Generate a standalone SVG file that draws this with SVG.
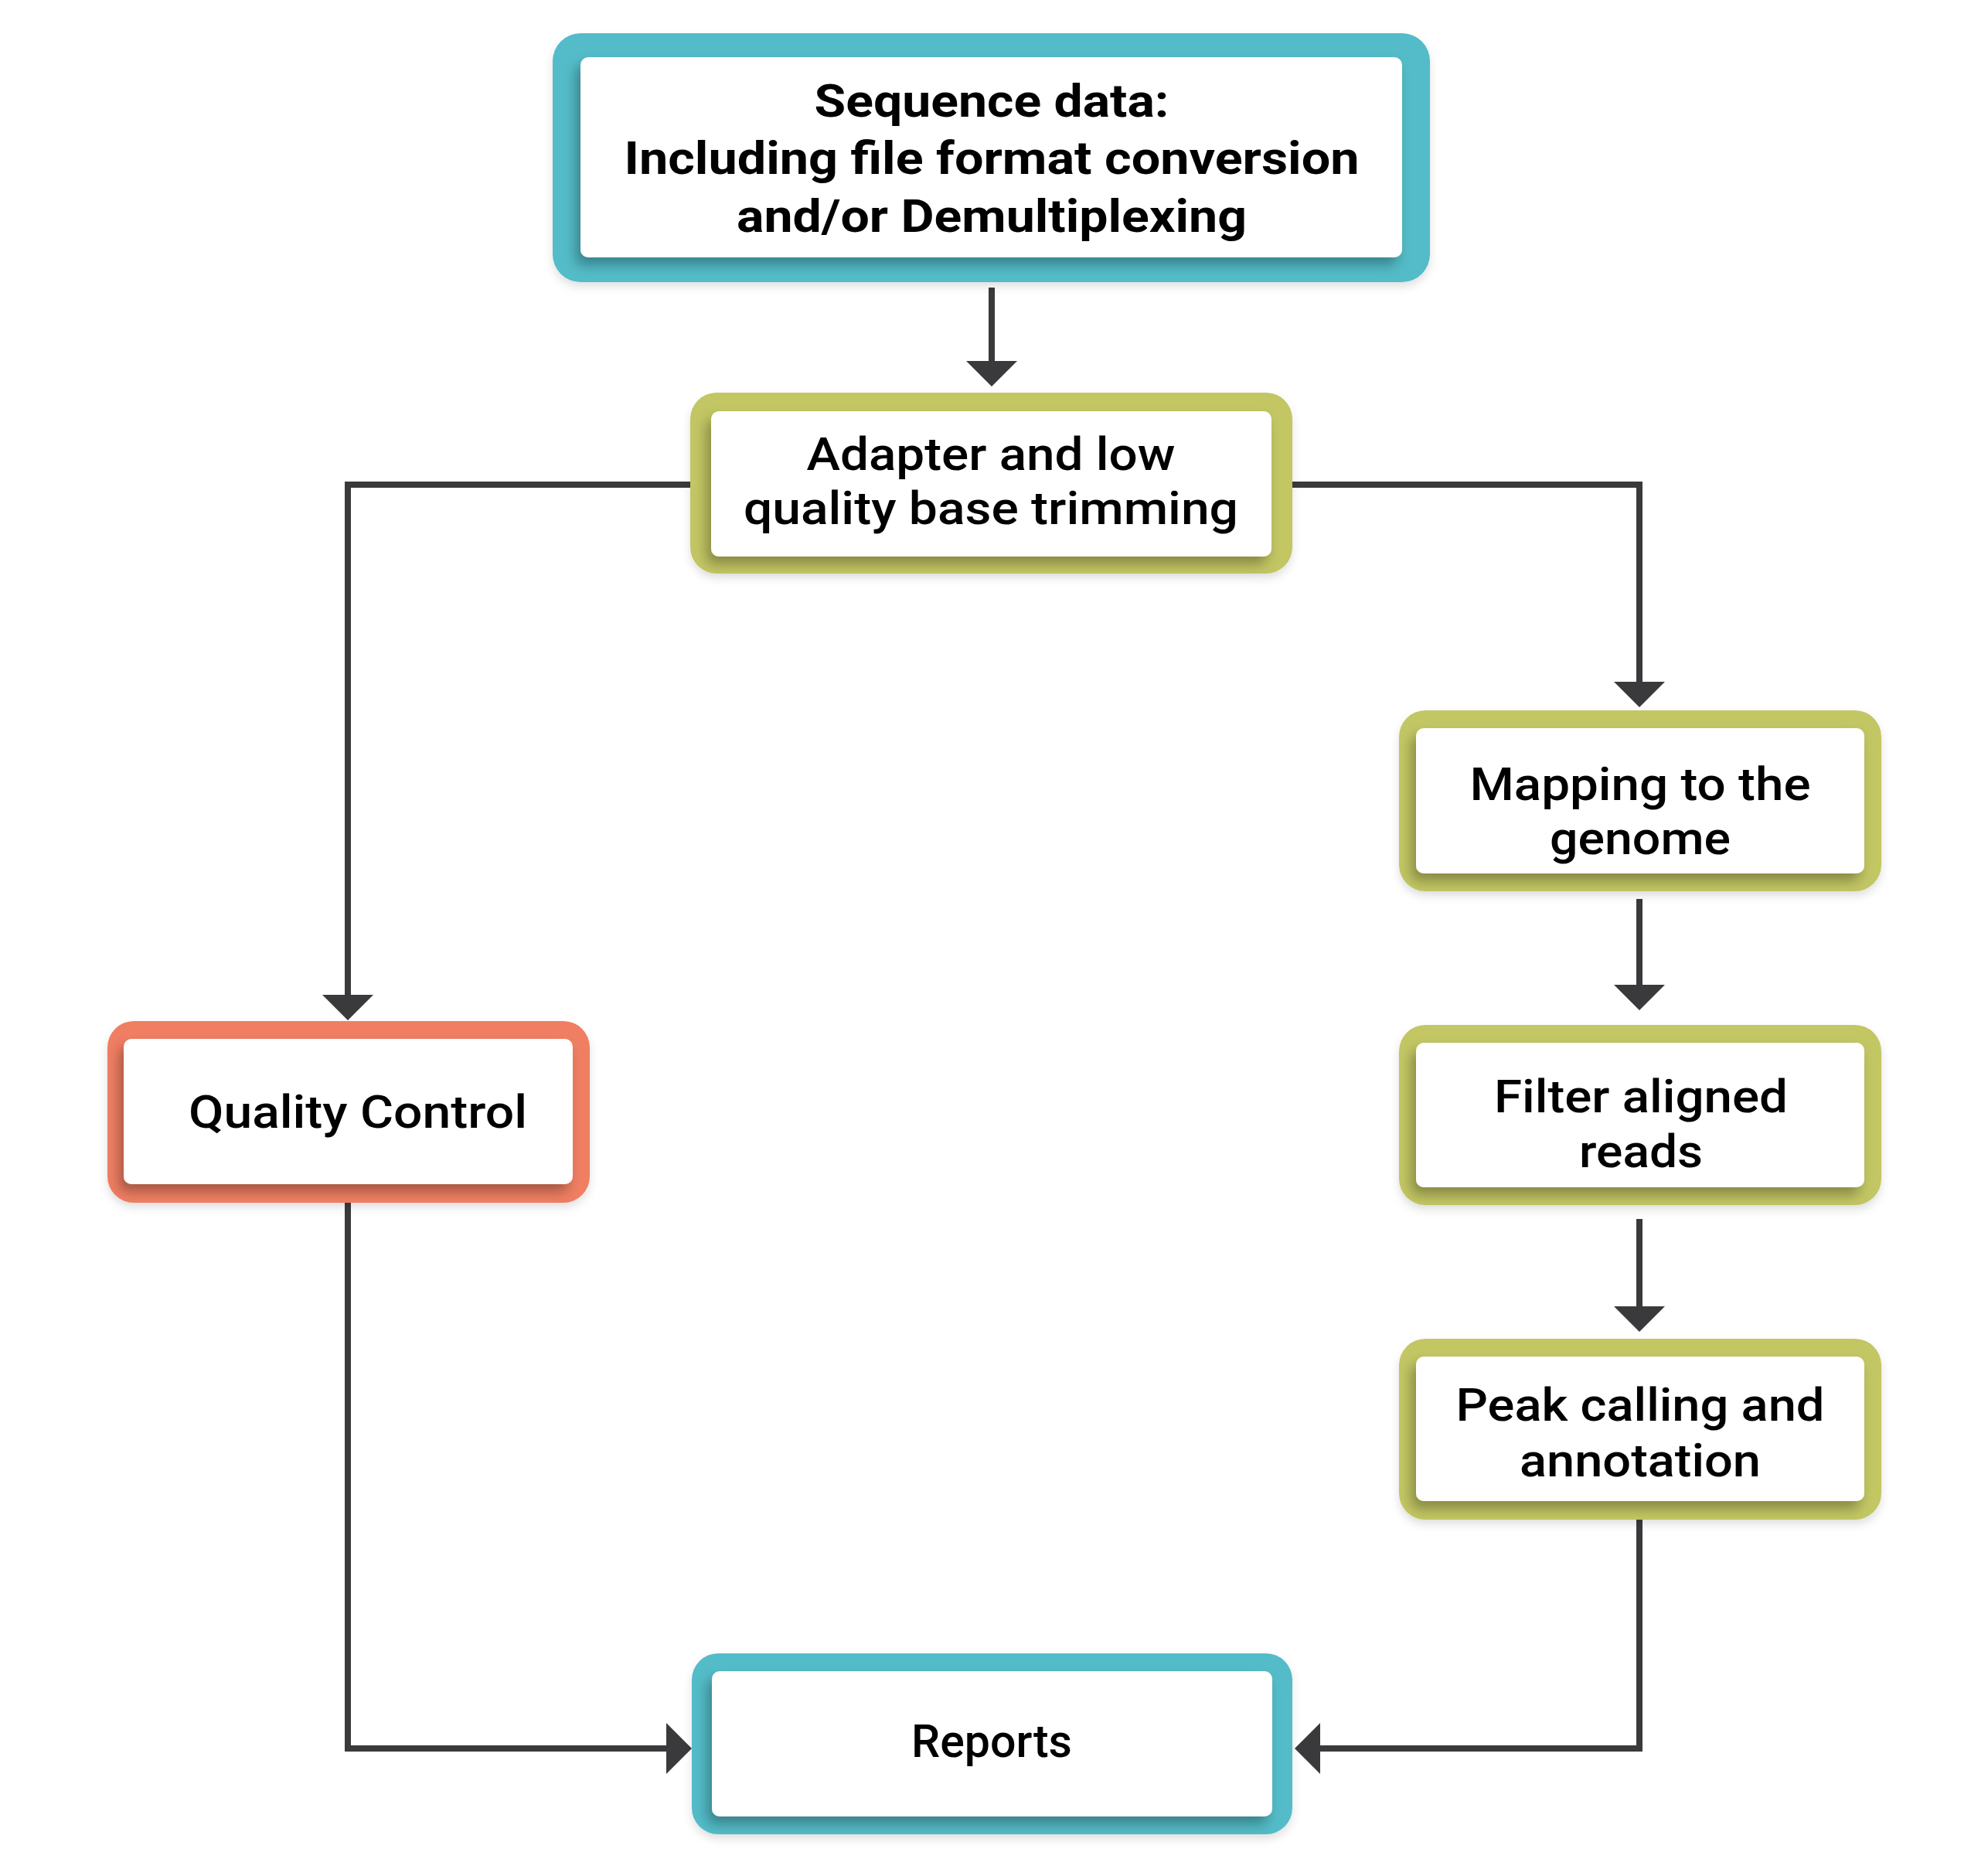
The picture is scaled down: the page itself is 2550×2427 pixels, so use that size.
<svg xmlns="http://www.w3.org/2000/svg" width="2550" height="2427" viewBox="0 0 2550 2427">
<defs>
<filter id="outerSh" x="-10%" y="-10%" width="120%" height="130%">
<feDropShadow dx="0" dy="6" stdDeviation="6" flood-color="#000" flood-opacity="0.12"/>
</filter>
<filter id="innerSh" x="-10%" y="-10%" width="120%" height="130%">
<feDropShadow dx="-6" dy="10" stdDeviation="8" flood-color="#000" flood-opacity="0.3"/>
</filter>
<marker id="ah" viewBox="0 0 33 66" refX="0" refY="33" markerWidth="33" markerHeight="66" markerUnits="userSpaceOnUse" orient="auto">
<path d="M0,0 L33,33 L0,66 Z" fill="#3a3a3c"/>
</marker>
</defs>
<style>
.teal{fill:#52bcc8}
.olive{fill:#c2c664}
.salmon{fill:#f07e62}
.outer{filter:url(#outerSh)}
.inner{fill:#ffffff;filter:url(#innerSh)}
.t{font-family:Roboto,"Liberation Sans",sans-serif;font-size:60px;font-weight:500;fill:#000;text-anchor:middle}
.tb{font-weight:700}
.c{fill:none;stroke:#3a3a3c;stroke-width:8;marker-end:url(#ah)}
</style>
<rect width="2550" height="2427" fill="#ffffff"/>
<g id="connectors">
<path class="c" d="M1283 372 V467"/>
<path class="c" d="M894 627 H450 V1287"/>
<path class="c" d="M1672 627 H2121 V882"/>
<path class="c" d="M2121 1163 V1274"/>
<path class="c" d="M2121 1577 V1690"/>
<path class="c" d="M450 1556 V2262 H862"/>
<path class="c" d="M2121 1963 V2262 H1708"/>
</g>
<g id="node-sequence">
<rect class="teal outer" x="715" y="43" width="1135" height="322" rx="36"/>
<rect class="inner" x="751" y="74" width="1063" height="259" rx="10"/>
<text class="t tb" x="1283" y="151" textLength="459" lengthAdjust="spacingAndGlyphs">Sequence data:</text>
<text class="t tb" x="1283" y="225" textLength="951" lengthAdjust="spacingAndGlyphs">Including file format conversion</text>
<text class="t tb" x="1283" y="300" textLength="660" lengthAdjust="spacingAndGlyphs">and/or Demultiplexing</text>
</g>
<g id="node-adapter">
<rect class="olive outer" x="893" y="508" width="779" height="234" rx="34"/>
<rect class="inner" x="920" y="532" width="725" height="188" rx="10"/>
<text class="t" x="1282" y="608" textLength="477" lengthAdjust="spacingAndGlyphs">Adapter and low</text>
<text class="t" x="1282" y="678" textLength="640" lengthAdjust="spacingAndGlyphs">quality base trimming</text>
</g>
<g id="node-qc">
<rect class="salmon outer" x="139" y="1321" width="624" height="235" rx="34"/>
<rect class="inner" x="160" y="1344" width="581" height="188" rx="10"/>
<text class="t" x="463" y="1459" textLength="438" lengthAdjust="spacingAndGlyphs">Quality Control</text>
</g>
<g id="node-mapping">
<rect class="olive outer" x="1810" y="919" width="624" height="234" rx="34"/>
<rect class="inner" x="1832" y="942" width="580" height="188" rx="10"/>
<text class="t" x="2122" y="1035" textLength="441" lengthAdjust="spacingAndGlyphs">Mapping to the</text>
<text class="t" x="2122" y="1105" textLength="234" lengthAdjust="spacingAndGlyphs">genome</text>
</g>
<g id="node-filter">
<rect class="olive outer" x="1810" y="1326" width="624" height="233" rx="34"/>
<rect class="inner" x="1832" y="1349" width="580" height="187" rx="10"/>
<text class="t" x="2123" y="1439" textLength="380" lengthAdjust="spacingAndGlyphs">Filter aligned</text>
<text class="t" x="2123" y="1510" textLength="160" lengthAdjust="spacingAndGlyphs">reads</text>
</g>
<g id="node-peak">
<rect class="olive outer" x="1810" y="1732" width="624" height="234" rx="34"/>
<rect class="inner" x="1832" y="1755" width="580" height="187" rx="10"/>
<text class="t" x="2122" y="1838" textLength="477" lengthAdjust="spacingAndGlyphs">Peak calling and</text>
<text class="t" x="2122" y="1910" textLength="312" lengthAdjust="spacingAndGlyphs">annotation</text>
</g>
<g id="node-reports">
<rect class="teal outer" x="895" y="2139" width="777" height="234" rx="34"/>
<rect class="inner" x="921" y="2162" width="725" height="188" rx="10"/>
<text class="t" x="1283" y="2273" textLength="208" lengthAdjust="spacingAndGlyphs">Reports</text>
</g>
</svg>
